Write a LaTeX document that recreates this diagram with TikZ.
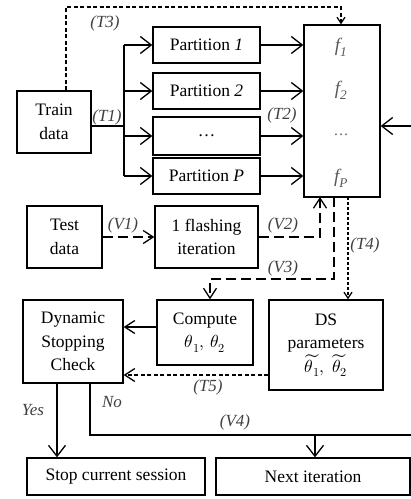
\documentclass[tikz,border=0pt]{standalone}
\usepackage{fontspec}
\usepackage{unicode-math}
\setmainfont{Liberation Serif}
\setmathfont{Latin Modern Math}
\usetikzlibrary{arrows.meta,positioning}

\begin{document}
\begin{tikzpicture}[x=1pt, y=-1pt,
  box/.style={draw, line width=1.3pt, inner sep=0pt, align=center,
              font=\fontsize{17.5}{23.5}\selectfont},
  lbl/.style={font=\fontsize{17}{20}\selectfont\itshape, text=black!75, inner sep=0pt},
  flab/.style={font=\fontsize{19}{20}\selectfont\itshape, text=black!65, inner sep=0pt},
  link/.style={line width=1.3pt},
  bigtip/.style={-{Straight Barb[length=11pt,width=17pt]}},
  midtip/.style={-{Straight Barb[length=10pt,width=13pt]}},
  smalltip/.style={-{Straight Barb[length=6pt,width=8pt]}},
  longdash/.style={dash pattern=on 10pt off 5pt},
  shortdash/.style={dash pattern=on 4pt off 2.5pt},
  densedash/.style={dash pattern=on 3pt off 2pt},
]
  \useasboundingbox (0,0) rectangle (411,499);
  \clip (0,0) rectangle (411,499);

  % Training part
  \node[box, minimum width=74pt, minimum height=62pt] (train) at (54,122) {Train\\data};
  \node[box, minimum width=107pt, minimum height=36pt] (p1) at (206.5,45) {Partition \textit{1}};
  \node[box, minimum width=107pt, minimum height=36pt] (p2) at (206.5,91) {Partition \textit{2}};
  \node[box, minimum width=107pt, minimum height=38pt] (pd) at (206.5,136) {\dots};
  \node[box, minimum width=107pt, minimum height=36pt] (pP) at (206.5,176) {Partition \textit{P}};
  \node[box, minimum width=76pt, minimum height=172pt] (fbox) at (342,111) {};
  \node[flab] (f1) at (341,47) {f\textsubscript{1}};
  \node[flab] (f2) at (341,90) {f\textsubscript{2}};
  \node[flab, font=\fontsize{15}{16}\selectfont] (fd) at (341,135) {\dots};
  \node[flab] (fP) at (341,178) {f\textsubscript{P}};

  % Test part
  \node[box, minimum width=75pt, minimum height=62pt] (test) at (64.5,237) {Test\\data};
  \node[box, minimum width=103pt, minimum height=62pt] (flash) at (206.5,237) {1 flashing\\iteration};
  \node[box, minimum width=96pt, minimum height=65pt] (compute) at (205,332.5) {Compute\\$\theta_1,\,\theta_2$};
  \node[box, minimum width=114pt, minimum height=90pt] (ds) at (326,345) {DS\\parameters\\$\widetilde{\theta_1},\;\widetilde{\theta_2}$};
  \node[box, minimum width=100pt, minimum height=83pt] (dyn) at (73,341.5) {Dynamic\\Stopping\\Check};
  \node[box, minimum width=178pt, minimum height=37pt] (stop) at (116,476.5) {Stop current session};
  \node[box, minimum width=194pt, minimum height=37pt] (next) at (313,476.5) {Next iteration};

  % Helper points
  \coordinate (trunk) at (124,126);
  \coordinate (t3) at (66,7);
  \coordinate (rin) at (412,126);
  \coordinate (v2) at (320,197);
  \coordinate (v3a) at (334,197);
  \coordinate (v3b) at (210,279);
  \coordinate (t4) at (348,197);
  \coordinate (cmp) at (0,327);
  \coordinate (t5) at (0,375);
  \coordinate (yes) at (57,0);
  \coordinate (no) at (90,0);
  \coordinate (v4) at (412,435);
  \coordinate (nx) at (315,435);

  % Connectors
  \draw[link] (train.east |- trunk) -- (trunk);
  \draw[link] (trunk |- p1) -- (trunk |- pP);
  \foreach \p in {p1,p2,pd,pP} {
    \draw[link, bigtip] (trunk |- \p) -- (\p.west);
    \draw[link, bigtip] (\p.east) -- (\p.east -| fbox.west);
  }
  \draw[link, shortdash, smalltip] (train.north -| t3) -- (t3) -| (fbox.north -| f1);
  \draw[link, bigtip] (rin) -- (rin -| fbox.east);
  \draw[link, longdash, midtip] (test.east) -- (flash.west);
  \draw[link, longdash, midtip] (flash.east) -| (v2);
  \draw[link, longdash, midtip] (v3a) |- (v3b) -- (v3b |- compute.north);
  \draw[link, densedash, smalltip] (t4) -- (t4 |- ds.north);
  \draw[link, midtip] (compute.west |- cmp) -- (dyn.east |- cmp);
  \draw[link, shortdash, midtip] (ds.west |- t5) -- (dyn.east |- t5);
  \draw[link, bigtip] (dyn.south -| yes) -- (stop.north -| yes);
  \draw[link] (dyn.south -| no) |- (v4);
  \draw[link, bigtip] (nx) -- (nx |- next.north);

  % Labels
  \node[lbl] (lt3) at (105,23) {(T3)};
  \node[lbl] (lt1) at (107,117) {(T1)};
  \node[lbl] (lt2) at (282,115) {(T2)};
  \node[lbl] (lv1) at (123,225) {(V1)};
  \node[lbl] (lv2) at (283,225) {(V2)};
  \node[lbl] (lv3) at (283,268) {(V3)};
  \node[lbl] (lt4) at (365,245) {(T4)};
  \node[lbl] (lt5) at (208,387) {(T5)};
  \node[lbl] (lyes) at (33,410) {Yes};
  \node[lbl] (lno) at (112,402) {No};
  \node[lbl] (lv4) at (235,422) {(V4)};
\end{tikzpicture}
\end{document}
